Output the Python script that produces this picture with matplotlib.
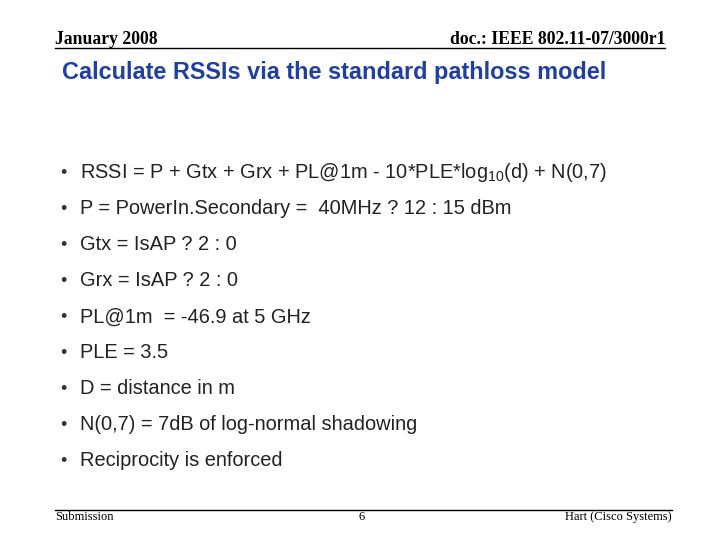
import matplotlib
matplotlib.use("Agg")
import matplotlib.pyplot as plt
from matplotlib.lines import Line2D

plt.rcParams['mathtext.fontset'] = 'custom'
plt.rcParams['mathtext.rm'] = 'Liberation Sans'
plt.rcParams['mathtext.default'] = 'regular'

header_left = "January 2008"
header_right = "doc.: IEEE 802.11-07/3000r1"
title = "Calculate RSSIs via the standard pathloss model"
bullets = [
    r"RSSI = P + Gtx + Grx + PL@1m - 10*PLE*log$_{10}$(d) + N(0,7)",
    "P = PowerIn.Secondary =  40MHz ? 12 : 15 dBm",
    "Gtx = IsAP ? 2 : 0",
    "Grx = IsAP ? 2 : 0",
    "PL@1m  = -46.9 at 5 GHz",
    "PLE = 3.5",
    "D = distance in m",
    "N(0,7) = 7dB of log-normal shadowing",
    "Reciprocity is enforced",
]
footer = ["Submission", "6", "Hart (Cisco Systems)"]

W, H = 720, 540
fig = plt.figure(figsize=(7.2, 5.4), dpi=100)
fig.patch.set_facecolor('white')

def t(x, y, s, **kw):
    fig.text(x / W, 1 - y / H, s, **kw)

serif = 'Liberation Serif'
sans = 'Liberation Sans'
t(55, 39, header_left, family=serif, weight='bold', fontsize=12.7, va='center')
t(665, 39, header_right, family=serif, weight='bold', fontsize=12.7, va='center', ha='right')
fig.add_artist(Line2D([55 / W, 665 / W], [1 - 48 / H] * 2, color='black', lw=1))
t(62, 73, title, family=sans, weight='bold', fontsize=16.9, color='#2040A0', va='center')

for i, b in enumerate(bullets):
    y = 173 + i * 36
    t(60, y, "•", family=sans, fontsize=13, color='#333333', va='center')
    t(80, y, b, family=sans, fontsize=14.4, color='#222222', va='center')

fig.add_artist(Line2D([55 / W, 672 / W], [1 - 510 / H] * 2, color='black', lw=1))
t(55, 517, footer[0], family=serif, fontsize=9, va='center')
t(362, 517, footer[1], family=serif, fontsize=9, va='center', ha='center')
t(672, 517, footer[2], family=serif, fontsize=9, va='center', ha='right')

fig.savefig("out.png", dpi=100)
